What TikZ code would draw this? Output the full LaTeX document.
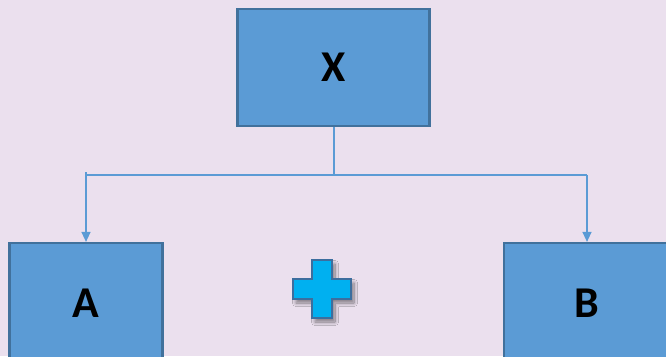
\documentclass[tikz,border=0pt]{standalone}
\usepackage{fontspec}
\setmainfont{Carlito}
\usetikzlibrary{positioning, arrows.meta, shadows.blur}
\definecolor{bgc}{HTML}{EBE0EE}
\definecolor{boxc}{HTML}{5B9BD5}
\definecolor{edgec}{HTML}{41719C}
\definecolor{plusc}{HTML}{00B0F0}
\definecolor{plusedge}{HTML}{3C6E9E}

\begin{document}
\begin{tikzpicture}[
      x=1pt, y=-1pt,
      blk/.style={draw=edgec, fill=boxc, line width=2.2pt, inner sep=0pt,
                  font=\fontsize{44}{44}\selectfont\bfseries, text=black},
      arr/.style={-{Triangle[length=10pt, width=9pt]}, boxc, line width=1.3pt}]
    \fill[bgc] (0,0) rectangle (666,356);
    \useasboundingbox (0,0) rectangle (666,356);
    \node[blk, minimum width=192pt, minimum height=117pt] (x) at (333.5,67.5) {X};
    \node[blk, minimum width=153pt, minimum height=120pt] (a) at (86,303) {A};
    \node[blk, minimum width=166pt, minimum height=120pt] (b) at (587,303) {B};
    \coordinate (split) at (334,175);
    \coordinate (la) at (86,175);
    \coordinate (lb) at (587,175);
    \draw[boxc, line width=1.3pt] (x.south -| split) -- (split);
    \draw[boxc, line width=1.3pt] (la) -- (lb);
    \draw[arr] (86,172) -- (a.north);
    \draw[arr] (lb) -- (b.north);
    % plus sign
    \draw[plusedge, fill=plusc, line width=2pt,
          blur shadow={shadow xshift=3pt, shadow yshift=-4pt, shadow blur steps=10,
                       shadow blur radius=3.5pt, shadow opacity=45}]
      (312,260) -- (332,260) -- (332,279) -- (351,279) -- (351,299) -- (332,299)
      -- (332,318) -- (312,318) -- (312,299) -- (293,299) -- (293,279) -- (312,279)
      -- cycle;
  \end{tikzpicture}
\end{document}
